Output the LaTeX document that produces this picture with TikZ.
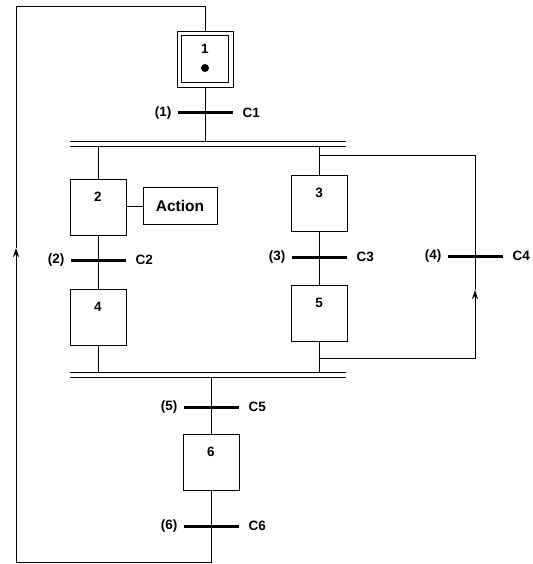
\documentclass[tikz,border=0pt]{standalone}
\usepackage{fontspec}
\setmainfont{Liberation Sans}
\usetikzlibrary{arrows.meta,calc}
\begin{document}
\begin{tikzpicture}[x=1pt,y=-1pt,line width=0.8pt,
  every node/.style={font=\fontsize{13.5}{16}\selectfont\bfseries},
  stepbox/.style={draw,minimum width=56pt,minimum height=56pt,inner sep=0pt},
  tbar/.style={fill=black,minimum width=55pt,minimum height=3pt,inner sep=0pt},
  tl/.style={label distance=2pt},
  tr/.style={label distance=6pt},
  num/.style={yshift=10pt},
  uparrow/.style={-{Stealth[length=9pt,width=6pt]}}
]
\useasboundingbox (0,0) rectangle (532,564);

% initial step
\node[stepbox,label={[num]center:1}] (s1) at (205,59) {};
\node[draw,minimum width=47pt,minimum height=47pt,inner sep=0pt] (s1i) at (s1) {};
\node[circle,fill=black,minimum size=8pt,inner sep=0pt] (tok) at (205,68) {};

% transitions
\node[tbar,label={[tl]west:(1)},label={[tr]east:C1}] (t1) at (205,113) {};
\node[tbar,label={[tl]west:(2)},label={[tr]east:C2}] (t2) at (98,260) {};
\node[tbar,label={[tl]west:(3)},label={[tr]east:C3}] (t3) at (319,257) {};
\node[tbar,label={[tl]west:(4)},label={[tr]east:C4}] (t4) at (475,256) {};
\node[tbar,label={[tl]west:(5)},label={[tr]east:C5}] (t5) at (211,407) {};
\node[tbar,label={[tl]west:(6)},label={[tr]east:C6}] (t6) at (211,526) {};

% steps
\node[stepbox,label={[num]center:2}] (s2) at (98,207) {};
\node[stepbox,label={[num]center:4}] (s4) at (98,317) {};
\node[stepbox,label={[num]center:3}] (s3) at (319,203) {};
\node[stepbox,label={[num]center:5}] (s5) at (319,313) {};
\node[stepbox,label={[num]center:6}] (s6) at (211,462) {};
\node[draw,minimum width=74pt,minimum height=37pt,inner sep=0pt,
      font=\fontsize{15.5}{18}\selectfont\bfseries] (act) at (180,206) {Action};

% double lines
\coordinate (d1l) at (70,141); \coordinate (d1r) at (346,141);
\coordinate (d2l) at (70,146); \coordinate (d2r) at (346,146);
\coordinate (e1l) at (70,372); \coordinate (e1r) at (346,372);
\coordinate (e2l) at (70,377); \coordinate (e2r) at (346,377);
\draw (d1l) -- (d1r);
\draw (d2l) -- (d2r);
\draw (e1l) -- (e1r);
\draw (e2l) -- (e2r);

% links
\draw (s1.south) -- (s1.south |- d1l);
\draw (s2.north |- d2l) -- (s2.north);
\draw (s3.north |- d2l) -- (s3.north);
\draw (s2.south) -- (s4.north);
\draw (s3.south) -- (s5.north);
\draw (s4.south) -- (s4.south |- e1l);
\draw (s5.south) -- (s5.south |- e1l);
\draw (act.west) -- (act.west -| s2.east);
\draw (s6.north |- e2l) -- (s6.north);

% right loop (4)
\coordinate (rl1) at (475,358);
\coordinate (rl2) at (475,290);
\coordinate (rl3) at (475,155);
\draw[uparrow] (s5.south |- rl1) -- (rl1) -- (rl2);
\draw (rl2) -- (rl3) -- (rl3 -| s3.north);

% return loop
\coordinate (b1) at (211,562);
\coordinate (b2) at (16,562);
\coordinate (b3) at (16,248);
\coordinate (b4) at (16,6);
\coordinate (b5) at (205,6);
\draw[uparrow] (s6.south) -- (b1) -- (b2) -- (b3);
\draw (b3) -- (b4) -- (b5) -- (s1.north);
\end{tikzpicture}
\end{document}
